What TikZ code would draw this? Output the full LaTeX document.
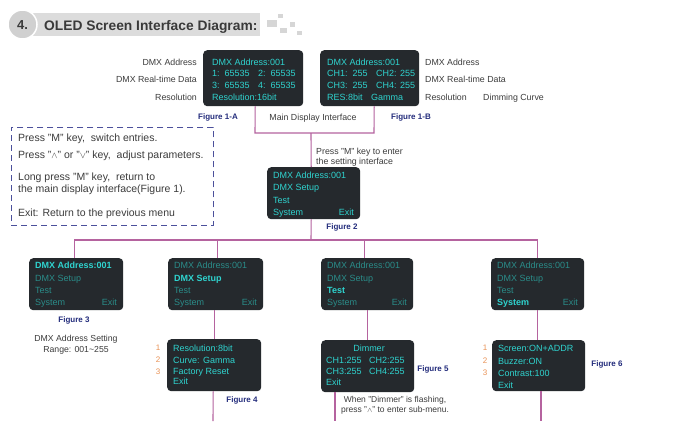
\documentclass[tikz,border=0pt]{standalone}
\usepackage{fontspec}
\setmainfont{Liberation Sans}
\definecolor{scr}{HTML}{25292D}
\definecolor{cyb}{HTML}{2FD3CF}
\definecolor{cyd}{HTML}{2A8C89}
\definecolor{conn}{HTML}{B5639F}
\definecolor{figb}{HTML}{232C7C}
\definecolor{lbl}{HTML}{3C3C3C}
\definecolor{orn}{HTML}{E99255}
\definecolor{dashc}{HTML}{4B509B}
\definecolor{hdr}{HTML}{DCDCDC}
\definecolor{circ}{HTML}{D0D0D0}
\definecolor{hdrtext}{HTML}{3A3A3A}
\definecolor{sq}{HTML}{D6D6D6}
\tikzset{
 screen/.style={fill=scr, rounded corners=4pt, inner sep=0pt, anchor=north west},
 st/.style={font=\fontsize{9}{10}\selectfont, text=cyb, inner sep=0pt, anchor=west, text height=6.4pt, text depth=0pt},
 sd/.style={st, text=cyd},
 sb/.style={st, font=\fontsize{9}{10}\selectfont\bfseries},
 lb/.style={font=\fontsize{8.8}{10}\selectfont, text=lbl, inner sep=0pt, text height=6.3pt, text depth=0pt},
 lbm/.style={text=lbl, inner sep=0pt, align=center},
 fig/.style={font=\fontsize{8}{9}\selectfont\bfseries, text=figb, inner sep=0pt, text height=5.8pt, text depth=0pt},
 num/.style={font=\fontsize{8}{9}\selectfont, text=orn, inner sep=0pt, text height=5.8pt, text depth=0pt},
 wire/.style={draw=conn, line width=1.1pt},
 note/.style={font=\fontsize{10.5}{12}\selectfont, text=lbl, inner sep=0pt, anchor=west, text height=7.5pt, text depth=0pt},
}
\begin{document}
\begin{tikzpicture}[x=1pt,y=-1pt]
\useasboundingbox (0,0) rectangle (700,421);
\fill[white] (0,0) rectangle (700,421);
% header
\fill[hdr] (33,13) rectangle (260,36);
\filldraw[fill=circ, draw=white, line width=1.5pt] (22.5,24.5) circle (14.5pt);
\node[font=\bfseries\fontsize{13}{14}\selectfont, text=hdrtext, inner sep=0pt, text height=9.4pt, text depth=0pt] (num4) at (22.5,25) {4.};
\node[font=\bfseries\fontsize{13.8}{15}\selectfont, text=hdrtext, inner sep=0pt, anchor=west, text height=9.9pt, text depth=0pt] (title) at (44,25.5) {OLED Screen Interface Diagram:};
\fill[sq] (267,20) rectangle (277,27);
\fill[sq] (278,14) rectangle (283,18);
\fill[sq] (280,28) rectangle (287,33);
\fill[sq] (290,22) rectangle (295,27);
\fill[sq] (297,31) rectangle (302,35);

% Figure 1-A
\node[screen, minimum width=100pt, minimum height=56pt] (f1a) at (203,50) {};
\node[st] (a1) at (212,62) {DMX Address:001};
\node[st] (a2) at (212,73.5) {1:\ \ 65535};
\node[st] (a3) at (258,73.5) {2:\ \ 65535};
\node[st] (a4) at (212,85) {3:\ \ 65535};
\node[st] (a5) at (258,85) {4:\ \ 65535};
\node[st] (a6) at (212,97) {Resolution:16bit};
\node[lb, anchor=east] (la1) at (197,62) {DMX Address};
\node[lb, anchor=east] (la2) at (197,79) {DMX Real-time Data};
\node[lb, anchor=east] (la3) at (197,97) {Resolution};
\node[fig] (fa) at (218,117) {Figure 1-A};

% Figure 1-B
\node[screen, minimum width=99pt, minimum height=56pt] (f1b) at (320,50) {};
\node[st] (b1) at (327,62) {DMX Address:001};
\node[st] (b2) at (327,73.5) {CH1:\ \ 255};
\node[st] (b3) at (376,73.5) {CH2: 255};
\node[st] (b4) at (327,85) {CH3:\ \ 255};
\node[st] (b5) at (376,85) {CH4: 255};
\node[st] (b6) at (327,97) {RES:8bit};
\node[st] (b7) at (371,97) {Gamma};
\node[lb, anchor=west] (lb1) at (425,62) {DMX Address};
\node[lb, anchor=west] (lb2) at (425,79) {DMX Real-time Data};
\node[lb, anchor=west] (lb3) at (425,97) {Resolution};
\node[lb, anchor=west] (lb4) at (483,97) {Dimming Curve};
\node[fig] (fb) at (411,117) {Figure 1-B};
\node[lb] (mdi) at (313,117) {Main Display Interface};

% bracket
\coordinate (brl) at (255,133);
\coordinate (brr) at (374,133);
\coordinate (brm) at (311,133);
\draw[wire] ([xshift=2pt]f1a.south) -- (brl) -- (brr) -- ([xshift=4.5pt]f1b.south);

% help box
\node[draw=dashc, dash pattern=on 6pt off 4pt, line width=0.9pt, minimum width=202pt, minimum height=98pt, inner sep=0pt, anchor=north west] (help) at (11,127) {};
\node[note] (n1) at (18,138) {Press "M" key,\ \ switch entries.};
\node[note] (n2) at (18,154.5) {Press "{\small$\wedge$}" or "{\small$\vee$}" key,\ \ adjust parameters.};
\node[note] (n3) at (18,177) {Long press "M" key,\ \ return to};
\node[note] (n4) at (18,188.5) {the main display interface(Figure 1).};
\node[note] (n5) at (18,213) {Exit: Return to the previous menu};

% Figure 2
\node[screen, minimum width=93pt, minimum height=52pt] (f2) at (267,167) {};
\node[st] (c1) at (273,175) {DMX Address:001};
\node[st] (c2) at (273,187.5) {DMX Setup};
\node[st] (c3) at (273,200) {Test};
\node[st] (c4) at (273,212) {System};
\node[st, anchor=east] (c5) at (354,212) {Exit};
\node[fig] (ff2) at (342,227) {Figure 2};
\node[lbm, anchor=west, align=left, font=\fontsize{8.8}{10.5}\selectfont] (pm) at (316,157) {Press "M" key to enter\\the setting interface};
\draw[wire] (brm) -- ([xshift=-2.5pt]f2.north);

% row of screens
\coordinate (bus) at (311,240);
\node[screen, minimum width=94pt, minimum height=52pt] (s1) at (29,258) {};
\node[screen, minimum width=95pt, minimum height=52pt] (s2) at (168,258) {};
\node[screen, minimum width=92pt, minimum height=52pt] (s3) at (321,258) {};
\node[screen, minimum width=93pt, minimum height=52pt] (s4) at (491,258) {};
\draw[wire] ([xshift=-2.5pt]f2.south) -- (bus);
\draw[wire] ([xshift=-2pt]s1.north) -- ([xshift=-2pt]s1.north |- bus) -- (s4.north |- bus) -- (s4.north);
\draw[wire] ([xshift=2pt]s2.north) -- ([xshift=2pt]s2.north |- bus);
\draw[wire] ([xshift=-3pt]s3.north) -- ([xshift=-3pt]s3.north |- bus);

% s1
\node[sb] (d1) at (35,265.5) {DMX Address:001};
\node[sd] (d2) at (35,278) {DMX Setup};
\node[sd] (d3) at (35,290.5) {Test};
\node[sd] (d4) at (35,302.5) {System};
\node[sd, anchor=east] (d5) at (117,302.5) {Exit};
% s2
\node[sd] (e1) at (174,265.5) {DMX Address:001};
\node[sb] (e2) at (174,278) {DMX Setup};
\node[sd] (e3) at (174,290.5) {Test};
\node[sd] (e4) at (174,302.5) {System};
\node[sd, anchor=east] (e5) at (257,302.5) {Exit};
% s3
\node[sd] (g1) at (327,265.5) {DMX Address:001};
\node[sd] (g2) at (327,278) {DMX Setup};
\node[sb] (g3) at (327,290.5) {Test};
\node[sd] (g4) at (327,302.5) {System};
\node[sd, anchor=east] (g5) at (407,302.5) {Exit};
% s4
\node[sd] (h1) at (497,265.5) {DMX Address:001};
\node[sd] (h2) at (497,278) {DMX Setup};
\node[sd] (h3) at (497,290.5) {Test};
\node[sb] (h4) at (497,302.5) {System};
\node[sd, anchor=east] (h5) at (578,302.5) {Exit};

\node[fig] (ff3) at (74,320) {Figure 3};
\node[lbm, font=\fontsize{8.7}{11}\selectfont] (rng) at (76,344.5) {DMX Address Setting\\Range: 001\textasciitilde255};

% Figure 4
\node[screen, minimum width=94pt, minimum height=52pt] (f4) at (167,339) {};
\node[st] (i1) at (173,348) {Resolution:8bit};
\node[st] (i2) at (173,360) {Curve: Gamma};
\node[st] (i3) at (173,371) {Factory Reset};
\node[st] (i4) at (173,381.5) {Exit};
\node[num] (i5) at (158,348) {1};
\node[num] (i6) at (158,360) {2};
\node[num] (i7) at (158,372) {3};
\node[fig] (ff4) at (242,400) {Figure 4};
\coordinate (e4) at (213,421);
\draw[wire] ([xshift=-1pt]s2.south) -- ([xshift=-1pt]s2.south |- f4.north);
\draw[wire] ([xshift=-1pt]f4.south) -- (e4);

% Figure 5
\node[screen, minimum width=93pt, minimum height=52pt] (f5) at (321,340) {};
\node[st, anchor=center] (j1) at (369,348) {Dimmer};
\node[st] (j2) at (326,360) {CH1:255};
\node[st] (j3) at (369,360) {CH2:255};
\node[st] (j4) at (326,371.5) {CH3:255};
\node[st] (j5) at (369,371.5) {CH4:255};
\node[st] (j6) at (326,382.5) {Exit};
\node[fig] (ff5) at (433,369) {Figure 5};
\node[lbm, font=\fontsize{8.5}{10}\selectfont] (dim) at (395,405) {When "Dimmer" is flashing,\\press "{\scriptsize$\wedge$}" to enter sub-menu.};
\coordinate (e5) at (335,421);
\draw[wire] (s3.south) -- (s3.south |- f5.north);
\draw[wire] (f5.south -| e5) -- (e5);

% Figure 6
\node[screen, minimum width=93pt, minimum height=51pt] (f6) at (492,340) {};
\node[st] (k1) at (498,348.5) {Screen:ON+ADDR};
\node[st] (k2) at (498,361) {Buzzer:ON};
\node[st] (k3) at (498,373) {Contrast:100};
\node[st] (k4) at (498,385) {Exit};
\node[num] (k5) at (485,348) {1};
\node[num] (k6) at (485,361) {2};
\node[num] (k7) at (485,373) {3};
\node[fig] (ff6) at (607,364) {Figure 6};
\coordinate (e6) at (541,421);
\draw[wire] (s4.south) -- (s4.south |- f6.north);
\draw[wire] (f6.south -| e6) -- (e6);
\end{tikzpicture}
\end{document}
